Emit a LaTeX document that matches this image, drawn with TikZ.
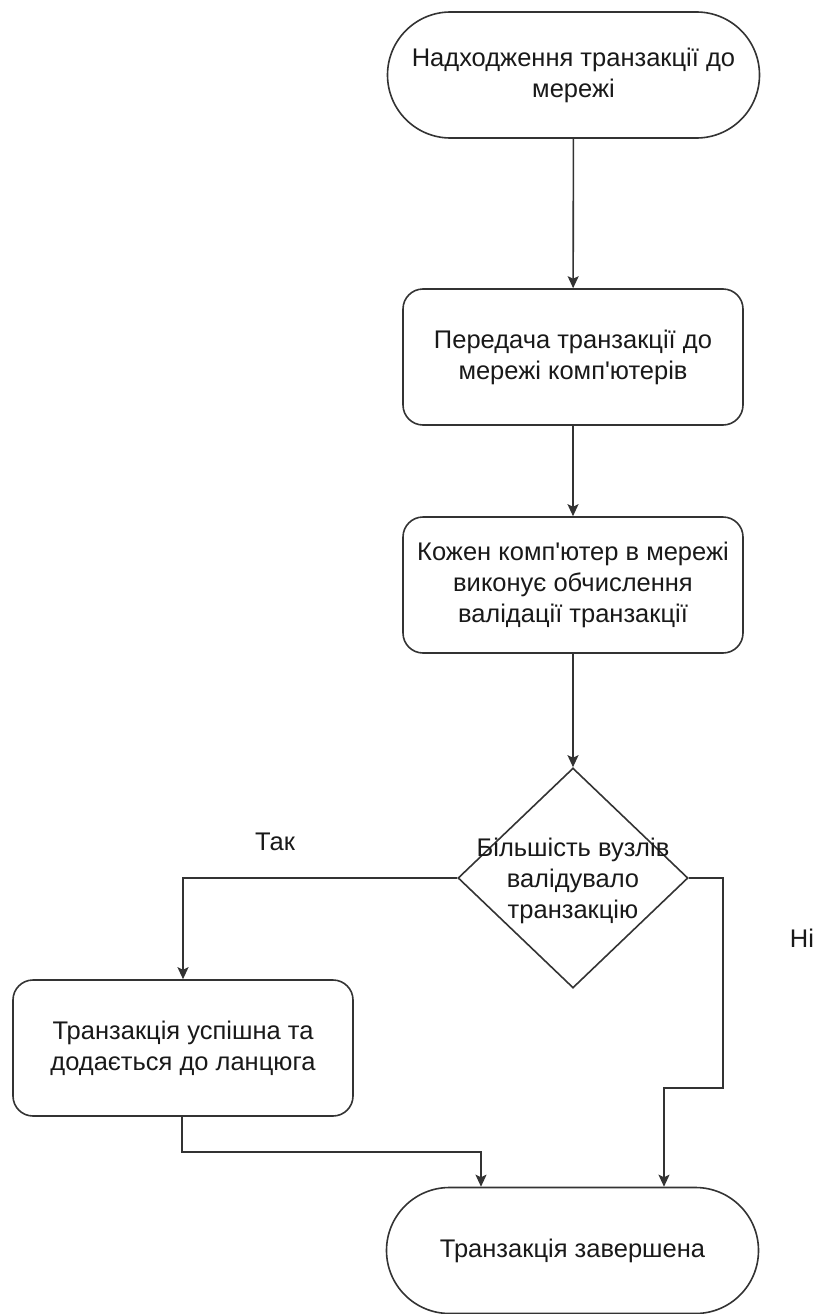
\documentclass[tikz,border=0pt]{standalone}
\usepackage{fontspec}
\setmainfont{Liberation Sans}
\usetikzlibrary{shapes.geometric,shapes.misc,arrows.meta}
\begin{document}
\begin{tikzpicture}[x=1pt,y=-1pt,
  every node/.style={font=\fontsize{25.5}{31}\selectfont, text=black!90},
  line/.style={draw=black!80, line width=1.6pt},
  arr/.style={line, -{Stealth[length=12pt,width=11pt,inset=2.5pt]}},
  terminal/.style={line, rounded rectangle, rounded rectangle arc length=180,
    minimum width=372, minimum height=126, inner sep=0, align=center},
  process/.style={line, rectangle, rounded corners=20,
    minimum width=340, minimum height=136, inner sep=0, align=center},
  decision/.style={line, diamond, minimum width=230, minimum height=220, inner sep=0},
  caption/.style={inner sep=0}
]
\useasboundingbox (0,0) rectangle (816,1314);

% flow steps
\node[terminal] (start) at (573.5,75) {Надходження транзакції до\\мережі};
\node[process] (send) at (573,357) {Передача транзакції до\\мережі комп\textquotesingle ютерів};
\node[process] (calc) at (573,585) {Кожен комп\textquotesingle ютер в мережі\\виконує обчислення\\валідації транзакції};
\node[decision] (dia) at (573,878) {};
\node[caption, align=center] (diatext) at (573,881) {Більшість вузлів\\валідувало\\транзакцію};
\node[process] (ok) at (183,1048) {Транзакція успішна та\\додається до ланцюга};
\node[terminal] (end) at (572.5,1250.5) {Транзакція завершена};

% branch labels
\node[caption] (yes) at (275,842) {Так};
\node[caption] (no) at (802,938) {Ні};

% bend points
\coordinate (nr) at (723,878);
\coordinate (nd) at (723,1088);
\coordinate (nx) at (664,1088);
\coordinate (ld) at (182,1152);
\coordinate (lx) at (481,1152);

% connectors
\draw[arr] (start) -- (send);
\draw[arr] (send) -- (calc);
\draw[arr] (calc) -- (dia);
\draw[arr] (dia.west) -| (ok.north);
\draw[arr] (dia.east) -- (nr) -- (nd) -- (nx) -- (nx |- end.north);
\draw[arr] (ok.south -| ld) -- (ld) -- (lx) -- (lx |- end.north);
\end{tikzpicture}
\end{document}
